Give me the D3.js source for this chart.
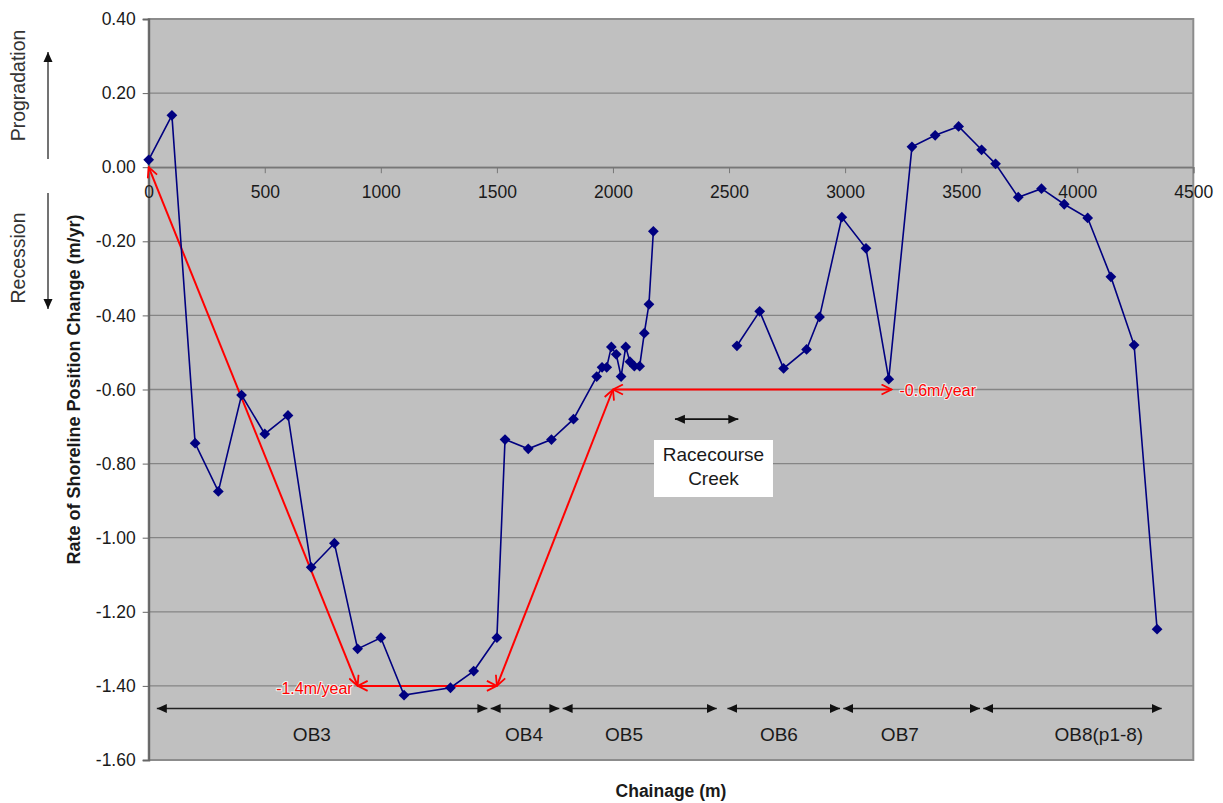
<!DOCTYPE html>
<html>
<head>
<meta charset="utf-8">
<script src="https://cdn.jsdelivr.net/npm/d3@7"></script>
<style>
  html, body { margin: 0; padding: 0; background: #ffffff; }
  svg { display: block; font-family: "Liberation Sans", Arial, sans-serif; }
</style>
</head>
<body>
<svg id="chart" width="1223" height="803"></svg>
<script>
// Shoreline change rate along the chainage, surveyed in two reaches either side of Racecourse Creek
const chainageA = [0, 100, 200, 300, 400, 500, 600, 700, 800, 900, 1000, 1100, 1300, 1400, 1500,
  1535, 1635, 1735, 1830, 1930, 1953, 1973, 1993, 2014, 2035, 2055, 2073, 2092, 2115, 2135, 2155, 2174];
const rateA = [0.02, 0.14, -0.745, -0.875, -0.615, -0.72, -0.67, -1.08, -1.015, -1.30, -1.27, -1.425, -1.405, -1.36, -1.27,
  -0.735, -0.76, -0.735, -0.68, -0.565, -0.54, -0.54, -0.485, -0.505, -0.565, -0.485, -0.525, -0.537, -0.537, -0.448, -0.37, -0.173];

const chainageB = [2534, 2632, 2735, 2834, 2890, 2986, 3090, 3188, 3288, 3388, 3489, 3588, 3648,
  3746, 3846, 3944, 4045, 4145, 4245, 4344];
const rateB = [-0.482, -0.389, -0.543, -0.492, -0.404, -0.135, -0.219, -0.572, 0.055, 0.086, 0.110, 0.047, 0.009,
  -0.081, -0.058, -0.100, -0.137, -0.296, -0.480, -1.247];

// Generalised recession trend
const trendChainage = [0, 900, 1500, 2000, 3200];
const trendRate = [0, -1.4, -1.4, -0.6, -0.6];
const trendLabels = ["-1.4m/year", "-0.6m/year"];

// Coastal compartments
const compartments = ["OB3", "OB4", "OB5", "OB6", "OB7", "OB8(p1-8)"];
const compartmentStart = [35, 1473, 1783, 2493, 2992, 3595];
const compartmentEnd = [1459, 1769, 2447, 2978, 3581, 4364];
const compartmentLabelAt = [703, 1617, 2048, 2715, 3236, 4093];

// Racecourse Creek reach
const creekStart = 2267, creekEnd = 2540;
const creekLabel = ["Racecourse", "Creek"];

// Axis ticks
const xTicks = [0, 500, 1000, 1500, 2000, 2500, 3000, 3500, 4000, 4500];
const yTicks = [0.40, 0.20, 0.00, -0.20, -0.40, -0.60, -0.80, -1.00, -1.20, -1.40, -1.60];
const xTitle = "Chainage (m)";
const yTitle = "Rate of Shoreline Position Change (m/yr)";

// ---------- layout ----------
const svg = d3.select("#chart");
const plot = { left: 148.7, right: 1193.3, top: 19, bottom: 760 };

const x = d3.scaleLinear().domain([0, 4500]).range([plot.left, plot.right]);
const y = d3.scaleLinear().domain([-1.6, 0.4]).range([plot.bottom, plot.top]);

const fmt = d3.formatLocale({ decimal: ".", thousands: ",", grouping: [3], currency: ["", ""], minus: "-" }).format(".2f");

// arrowhead markers
const defs = svg.append("defs");
defs.append("marker").attr("id", "blk").attr("viewBox", "0 0 10 10")
  .attr("refX", 10).attr("refY", 5).attr("markerWidth", 10).attr("markerHeight", 10)
  .attr("markerUnits", "userSpaceOnUse").attr("orient", "auto-start-reverse")
  .append("path").attr("d", "M0,0.5 L10,5 L0,9.5 Z").attr("fill", "#111");
defs.append("marker").attr("id", "red").attr("viewBox", "0 0 12 12")
  .attr("refX", 11).attr("refY", 6).attr("markerWidth", 12).attr("markerHeight", 12)
  .attr("markerUnits", "userSpaceOnUse").attr("orient", "auto-start-reverse")
  .append("path").attr("d", "M1,1 L11,6 L1,11").attr("fill", "none")
  .attr("stroke", "#ff0000").attr("stroke-width", 1.8);

// plot background
svg.append("rect")
  .attr("x", plot.left).attr("y", plot.top)
  .attr("width", plot.right - plot.left).attr("height", plot.bottom - plot.top)
  .attr("fill", "#c0c0c0");

// horizontal gridlines
svg.append("g").selectAll("line").data(yTicks).join("line")
  .attr("x1", plot.left).attr("x2", plot.right)
  .attr("y1", d => y(d)).attr("y2", d => y(d))
  .attr("stroke", "#858585").attr("stroke-width", 1.3);

// frame
svg.append("rect")
  .attr("x", plot.left).attr("y", plot.top)
  .attr("width", plot.right - plot.left).attr("height", plot.bottom - plot.top)
  .attr("fill", "none").attr("stroke", "#8c8c8c").attr("stroke-width", 2);

// y axis
const yAxis = svg.append("g").attr("transform", `translate(${plot.left},0)`)
  .call(d3.axisLeft(y).tickValues(yTicks).tickFormat(fmt).tickSize(6).tickPadding(7));
yAxis.select(".domain").attr("stroke", "#666").attr("stroke-width", 2);
yAxis.selectAll(".tick line").attr("stroke", "#666");
yAxis.selectAll(".tick text").attr("font-size", 17.5).attr("fill", "#1a1a1a")
  .attr("font-family", "Liberation Sans, Arial, sans-serif");

// x axis drawn through zero
const xAxis = svg.append("g").attr("transform", `translate(0,${y(0)})`)
  .call(d3.axisBottom(x).tickValues(xTicks).tickFormat(d3.format("d")).tickSize(6).tickPadding(12));
xAxis.select(".domain").attr("stroke", "#777").attr("stroke-width", 1.5);
xAxis.selectAll(".tick line").attr("stroke", "#777");
xAxis.selectAll(".tick text").attr("font-size", 17.5).attr("fill", "#1a1a1a")
  .attr("font-family", "Liberation Sans, Arial, sans-serif");

// compartment extents
const comp = svg.append("g");
compartments.forEach((name, i) => {
  comp.append("line")
    .attr("x1", x(compartmentStart[i])).attr("x2", x(compartmentEnd[i]))
    .attr("y1", y(-1.461)).attr("y2", y(-1.461))
    .attr("stroke", "#222").attr("stroke-width", 1.6)
    .attr("marker-start", "url(#blk)").attr("marker-end", "url(#blk)");
  comp.append("text")
    .attr("x", x(compartmentLabelAt[i])).attr("y", y(-1.461) + 32)
    .attr("text-anchor", "middle").attr("font-size", 19).attr("fill", "#1a1a1a")
    .text(name);
});

// trend lines
const trend = svg.append("g");
for (let i = 0; i < trendChainage.length - 1; i++) {
  trend.append("line")
    .attr("x1", x(trendChainage[i])).attr("y1", y(trendRate[i]))
    .attr("x2", x(trendChainage[i + 1])).attr("y2", y(trendRate[i + 1]))
    .attr("stroke", "#ff0000").attr("stroke-width", 2)
    .attr("marker-start", "url(#red)").attr("marker-end", "url(#red)");
}

// Racecourse Creek annotation
const creekMid = (creekStart + creekEnd) / 2;
svg.append("line")
  .attr("x1", x(creekStart)).attr("x2", x(creekEnd))
  .attr("y1", y(-0.68)).attr("y2", y(-0.68))
  .attr("stroke", "#111").attr("stroke-width", 1.6)
  .attr("marker-start", "url(#blk)").attr("marker-end", "url(#blk)");
const boxCx = x(2433);
svg.append("rect")
  .attr("x", boxCx - 59.5).attr("y", 440).attr("width", 119).attr("height", 57)
  .attr("fill", "#ffffff");
creekLabel.forEach((t, i) => {
  svg.append("text")
    .attr("x", boxCx).attr("y", 461 + i * 24)
    .attr("text-anchor", "middle").attr("font-size", 19).attr("fill", "#1a1a1a")
    .text(t);
});

// shoreline change series
const line = d3.line().x(d => x(d[0])).y(d => y(d[1]));
const seriesA = chainageA.map((c, i) => [c, rateA[i]]);
const seriesB = chainageB.map((c, i) => [c, rateB[i]]);
const series = svg.append("g");
[seriesA, seriesB].forEach(s => {
  series.append("path").datum(s).attr("d", line)
    .attr("fill", "none").attr("stroke", "#000080").attr("stroke-width", 1.6);
});
const diamond = d3.symbol().type(d3.symbolSquare).size(58);
series.selectAll("path.pt").data(seriesA.concat(seriesB)).join("path")
  .attr("class", "pt")
  .attr("d", diamond)
  .attr("transform", d => `translate(${x(d[0])},${y(d[1])}) rotate(45)`)
  .attr("fill", "#000080");

// trend labels
const redText = (t, px, py, anchor) => svg.append("text")
  .attr("x", px).attr("y", py).attr("text-anchor", anchor)
  .attr("font-size", 16).attr("fill", "#ff0000")
  .attr("stroke", "#ffffff").attr("stroke-width", 2.2).attr("stroke-opacity", 0.75)
  .attr("paint-order", "stroke").attr("stroke-linejoin", "round")
  .text(t);
redText(trendLabels[0], x(trendChainage[1]) - 5, y(trendRate[1]) + 8, "end");
redText(trendLabels[1], x(trendChainage[4]) + 8, y(trendRate[4]) + 6, "start");

// axis titles
svg.append("text")
  .attr("x", (plot.left + plot.right) / 2).attr("y", 797)
  .attr("text-anchor", "middle").attr("font-size", 17.5).attr("font-weight", "bold")
  .attr("fill", "#1a1a1a").text(xTitle);
svg.append("text")
  .attr("transform", `translate(80,${(plot.top + plot.bottom) / 2}) rotate(-90)`)
  .attr("text-anchor", "middle").attr("font-size", 18).attr("font-weight", "bold")
  .attr("fill", "#1a1a1a").text(yTitle);

// direction indicators
const side = svg.append("g");
side.append("text").attr("transform", "translate(25,85.5) rotate(-90)")
  .attr("text-anchor", "middle").attr("font-size", 19.5).attr("fill", "#333").text("Progradation");
side.append("text").attr("transform", "translate(25,258) rotate(-90)")
  .attr("text-anchor", "middle").attr("font-size", 19.5).attr("fill", "#333").text("Recession");
side.append("line").attr("x1", 48).attr("x2", 48).attr("y1", 159).attr("y2", 52)
  .attr("stroke", "#444").attr("stroke-width", 1.5).attr("marker-end", "url(#blk)");
side.append("line").attr("x1", 48).attr("x2", 48).attr("y1", 193).attr("y2", 309)
  .attr("stroke", "#444").attr("stroke-width", 1.5).attr("marker-end", "url(#blk)");
</script>
</body>
</html>
